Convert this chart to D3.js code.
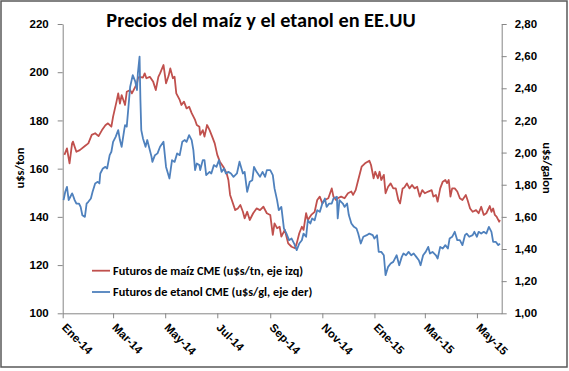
<!DOCTYPE html>
<html>
<head>
<meta charset="utf-8">
<script src="https://cdn.jsdelivr.net/npm/d3@7"></script>
<style>
  body { margin: 0; background: #fff; }
  svg { font-family: Carlito, Lato, "Open Sans", sans-serif; }
  .axis path, .axis line { stroke: #868686; }
  .axis text { font-size: 11.5px; font-weight: bold; fill: #000; }
</style>
</head>
<body>
<script>
// serie diaria (dias desde 1-ene-2014)
const titulo = "Precios del maíz y el etanol en EE.UU";
const leyendaMaiz = "Futuros de maíz CME (u$s/tn, eje izq)";
const leyendaEtanol = "Futuros de etanol CME (u$s/gl, eje der)";

const diasMaiz = [
  2, 5, 8, 11, 12, 16, 20, 26, 30, 34,
  38, 42, 46, 50, 53, 57, 59, 63, 65, 67,
  69, 71, 73, 75, 79, 81, 83, 87, 88, 90,
  94, 96, 98, 102, 106, 109, 112, 114, 118, 121,
  124, 126, 129, 131, 133, 137, 139, 142, 145, 148,
  151, 155, 157, 160, 161, 164, 166, 169, 172, 175,
  178, 181, 184, 188, 192, 194, 196, 198, 202, 205,
  208, 211, 213, 216, 219, 223, 227, 231, 235, 239,
  243, 246, 248, 251, 254, 256, 260, 264, 268, 272,
  274, 277, 280, 282, 285, 287, 291, 295, 298, 301,
  304, 307, 311, 315, 317, 320, 322, 326, 330, 334,
  338, 340, 343, 346, 350, 354, 357, 359, 361, 364,
  366, 369, 371, 373, 376, 378, 381, 384, 387, 390,
  393, 395, 398, 400, 403, 406, 409, 412, 415, 418,
  421, 424, 428, 432, 434, 437, 439, 442, 445, 448,
  450, 452, 454, 456, 459, 462, 465, 468, 472, 474,
  477, 480, 484, 487, 490, 493, 496, 500, 502, 504,
  506, 508, 511, 512
];
const maiz = [
  165.7, 168.4, 162.2, 170.5, 171.2, 167.0, 167.7, 169.4, 170.5, 174.0,
  174.7, 173.5, 176.0, 178.0, 178.8, 177.4, 181.6, 187.8, 191.2, 187.0,
  190.5, 188.5, 186.4, 191.9, 192.6, 191.2, 192.6, 195.4, 197.5, 198.1,
  197.8, 199.5, 197.5, 198.1, 196.0, 192.6, 198.1, 199.5, 203.0, 195.4,
  198.5, 201.6, 197.5, 198.1, 191.2, 188.5, 186.4, 187.8, 185.0, 185.7,
  183.0, 180.2, 178.1, 177.4, 174.0, 176.0, 173.3, 178.1, 176.0, 173.3,
  170.5, 165.7, 162.9, 160.8, 158.0, 155.3, 149.1, 147.0, 142.8, 143.5,
  144.9, 142.1, 139.4, 142.1, 138.7, 141.5, 143.5, 142.8, 144.2, 141.5,
  140.8, 132.5, 137.3, 135.3, 135.9, 131.8, 134.6, 129.0, 127.6, 127.0,
  129.0, 133.2, 135.9, 134.6, 141.5, 138.7, 140.8, 142.1, 147.0, 148.4,
  145.6, 147.0, 147.7, 151.8, 148.4, 147.0, 147.7, 148.4, 147.7, 149.8,
  150.5, 149.1, 151.1, 155.3, 160.8, 162.2, 162.9, 163.3, 161.5, 156.0,
  158.7, 156.0, 158.7, 155.3, 157.4, 149.8, 152.5, 153.9, 151.8, 151.8,
  147.0, 145.6, 151.8, 152.2, 153.9, 151.8, 153.2, 151.8, 152.5, 148.4,
  151.1, 149.8, 150.5, 151.1, 148.4, 149.1, 146.3, 151.8, 154.6, 155.3,
  154.0, 155.3, 148.4, 151.8, 151.8, 150.5, 147.7, 147.0, 149.1, 147.0,
  143.5, 142.1, 142.8, 141.5, 144.2, 140.8, 141.5, 144.5, 142.1, 143.5,
  140.8, 140.1, 138.0, 138.7
];

const diasEtanol = [
  1, 3, 5, 7, 9, 11, 12, 14, 16, 19,
  21, 23, 26, 28, 30, 33, 35, 38, 41, 43,
  44, 47, 50, 52, 55, 57, 59, 62, 65, 67,
  69, 72, 73, 75, 77, 79, 82, 85, 87, 88,
  90, 91, 92, 94, 97, 99, 101, 104, 105, 108,
  111, 114, 118, 121, 125, 128, 131, 134, 137, 140,
  143, 145, 148, 151, 153, 155, 157, 160, 161, 164,
  166, 168, 172, 174, 177, 180, 183, 186, 189, 191,
  194, 197, 200, 204, 207, 211, 213, 216, 219, 222,
  224, 227, 231, 234, 237, 239, 243, 246, 248, 251,
  253, 256, 259, 262, 265, 268, 271, 274, 277, 280,
  282, 285, 287, 290, 292, 295, 298, 301, 304, 307,
  309, 312, 315, 317, 321, 322, 324, 328, 330, 333,
  335, 338, 341, 344, 346, 349, 352, 356, 359, 363,
  365, 368, 370, 373, 376, 378, 381, 384, 387, 390,
  391, 394, 397, 399, 402, 405, 408, 411, 414, 417,
  419, 422, 425, 428, 430, 433, 437, 439, 442, 445,
  448, 451, 453, 456, 459, 462, 465, 468, 471, 473,
  476, 480, 482, 485, 487, 490, 493, 496, 499, 502,
  504, 507, 510, 512
];
const etanol = [
  1.704, 1.756, 1.787, 1.704, 1.725, 1.746, 1.735, 1.704, 1.683, 1.683,
  1.662, 1.610, 1.600, 1.683, 1.694, 1.714, 1.756, 1.808, 1.818, 1.808,
  1.870, 1.901, 1.911, 1.901, 1.984, 2.005, 2.067, 2.098, 2.140, 2.078,
  2.036, 2.140, 2.171, 2.161, 2.285, 2.410, 2.482, 2.441, 2.389, 2.493,
  2.597, 2.327, 2.140, 2.088, 2.036, 2.078, 2.036, 1.974, 1.942, 1.984,
  1.995, 2.036, 2.067, 1.911, 1.839, 1.953, 1.942, 1.995, 1.984, 2.067,
  2.078, 2.067, 2.109, 2.078, 2.015, 1.891, 1.932, 1.922, 1.891, 1.953,
  1.953, 1.860, 1.880, 1.870, 1.922, 1.911, 1.953, 1.880, 1.901, 1.870,
  1.880, 1.870, 1.849, 1.870, 1.943, 1.870, 1.880, 1.756, 1.818, 1.828,
  1.911, 1.880, 1.849, 1.880, 1.849, 1.891, 1.891, 1.860, 1.777, 1.704,
  1.642, 1.662, 1.528, 1.496, 1.455, 1.465, 1.434, 1.393, 1.434, 1.455,
  1.496, 1.476, 1.579, 1.559, 1.590, 1.579, 1.642, 1.631, 1.683, 1.714,
  1.662, 1.683, 1.683, 1.714, 1.725, 1.590, 1.704, 1.683, 1.662, 1.683,
  1.611, 1.559, 1.538, 1.528, 1.496, 1.434, 1.476, 1.486, 1.496, 1.486,
  1.465, 1.486, 1.382, 1.382, 1.361, 1.237, 1.289, 1.310, 1.320, 1.351,
  1.361, 1.299, 1.351, 1.372, 1.361, 1.382, 1.361, 1.372, 1.351, 1.330,
  1.299, 1.361, 1.382, 1.413, 1.372, 1.382, 1.361, 1.341, 1.413, 1.403,
  1.424, 1.403, 1.465, 1.476, 1.507, 1.455, 1.455, 1.424, 1.486, 1.496,
  1.476, 1.486, 1.507, 1.476, 1.507, 1.496, 1.507, 1.496, 1.538, 1.507,
  1.445, 1.445, 1.424, 1.434
];

const etiquetasX = ["Ene-14", "Mar-14", "May-14", "Jul-14", "Sep-14", "Nov-14", "Ene-15", "Mar-15", "May-15"];
const mesesX = [[2014, 0], [2014, 2], [2014, 4], [2014, 6], [2014, 8], [2014, 10], [2015, 0], [2015, 2], [2015, 4]];
const ticksIzq = [100, 120, 140, 160, 180, 200, 220];
const ticksDer = [1.0, 1.2, 1.4, 1.6, 1.8, 2.0, 2.2, 2.4, 2.6, 2.8];

const W = 569, H = 371;
const plot = {left: 62.7, right: 501.7, top: 24, bottom: 313.3};
const rojo = "#C0504D", azul = "#4F81BD";

const inicio = new Date(2014, 0, 1);
const fechasX = mesesX.map(m => new Date(m[0], m[1], 1));

const svg = d3.select("body").append("svg")
  .attr("width", W)
  .attr("height", H);

svg.append("rect")
  .attr("x", 1).attr("y", 1)
  .attr("width", W - 3).attr("height", H - 5)
  .attr("fill", "#fff")
  .attr("stroke", "#595959")
  .attr("stroke-width", 1.5);

const x = d3.scaleTime()
  .domain([inicio, new Date(2015, 4, 30)])
  .range([plot.left, plot.right]);
const yIzq = d3.scaleLinear().domain([100, 220]).range([plot.bottom, plot.top]);
const yDer = d3.scaleLinear().domain([1, 2.8]).range([plot.bottom, plot.top]);

// ejes
svg.append("g")
  .attr("class", "axis")
  .attr("transform", "translate(" + plot.left + ",0)")
  .call(d3.axisLeft(yIzq).tickValues(ticksIzq).tickSize(5).tickPadding(8).tickSizeOuter(0))
  .call(g => g.selectAll("text").attr("dx", "-1"));

svg.append("g")
  .attr("class", "axis")
  .attr("transform", "translate(" + plot.right + ",0)")
  .call(d3.axisRight(yDer).tickValues(ticksDer).tickSize(5).tickPadding(8).tickSizeOuter(0)
    .tickFormat(d => d.toFixed(2).replace(".", ",")));

svg.append("g")
  .attr("class", "axis")
  .attr("transform", "translate(0," + plot.bottom + ")")
  .call(d3.axisBottom(x).tickValues(fechasX).tickSize(5).tickSizeOuter(0)
    .tickFormat((d, i) => etiquetasX[i]))
  .call(g => g.selectAll("text")
    .attr("x", 0).attr("y", 0).attr("dy", 0)
    .attr("transform", "translate(-2,15) rotate(45)")
    .style("text-anchor", "start"));

// series
const lineaMaiz = d3.line()
  .x((d, i) => x(d3.timeDay.offset(inicio, diasMaiz[i])))
  .y(d => yIzq(d));
const lineaEtanol = d3.line()
  .x((d, i) => x(d3.timeDay.offset(inicio, diasEtanol[i])))
  .y(d => yDer(d));

svg.append("path")
  .datum(maiz)
  .attr("d", lineaMaiz)
  .attr("fill", "none")
  .attr("stroke", rojo)
  .attr("stroke-width", 1.8)
  .attr("stroke-linejoin", "round");

svg.append("path")
  .datum(etanol)
  .attr("d", lineaEtanol)
  .attr("fill", "none")
  .attr("stroke", azul)
  .attr("stroke-width", 1.8)
  .attr("stroke-linejoin", "round");

// titulo y rotulos
svg.append("text")
  .attr("x", 261).attr("y", 27)
  .attr("text-anchor", "middle")
  .style("font-size", "20.3px")
  .style("font-weight", "bold")
  .text(titulo);

svg.append("text")
  .attr("transform", "translate(24,168) rotate(-90)")
  .attr("text-anchor", "middle")
  .style("font-size", "12.5px")
  .style("font-weight", "bold")
  .text("u$s/ton");

svg.append("text")
  .attr("transform", "translate(543,168) rotate(90)")
  .attr("text-anchor", "middle")
  .style("font-size", "12.5px")
  .style("font-weight", "bold")
  .text("u$s/galon");

// leyenda
const leyenda = svg.append("g").attr("class", "legend-group");
[[leyendaMaiz, rojo], [leyendaEtanol, azul]].forEach((d, i) => {
  const g = leyenda.append("g").attr("transform", "translate(92," + (270.7 + i * 21.3) + ")");
  g.append("line").attr("x1", 0).attr("x2", 18).attr("stroke", d[1]).attr("stroke-width", 1.8);
  g.append("text").attr("x", 21).attr("dy", "0.35em")
    .style("font-size", "12.3px").style("font-weight", "bold")
    .text(d[0]);
});
</script>
</body>
</html>
